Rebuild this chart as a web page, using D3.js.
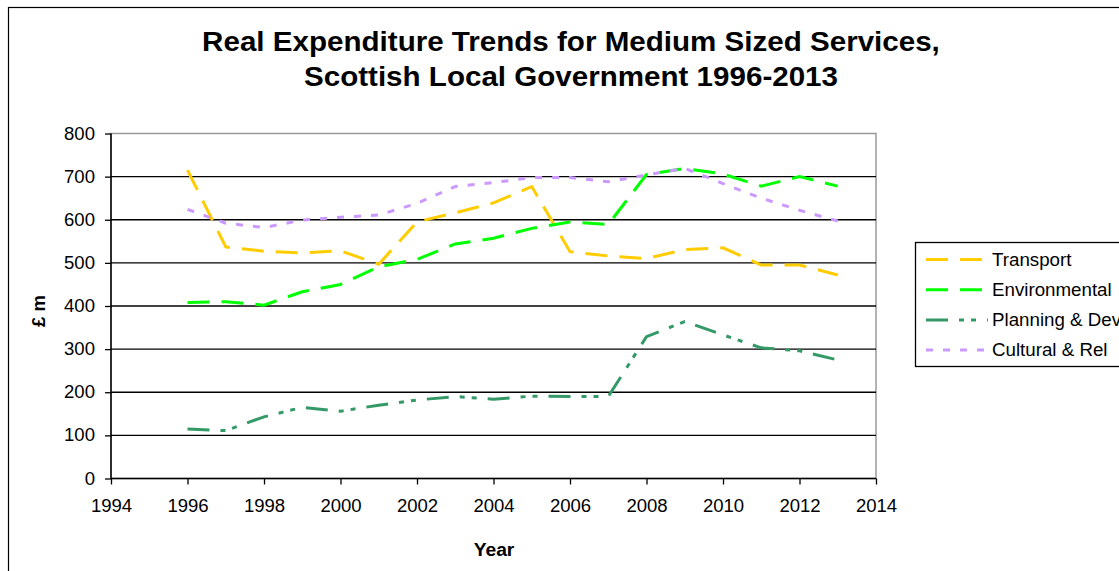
<!DOCTYPE html>
<html>
<head>
<meta charset="utf-8">
<script src="https://cdn.jsdelivr.net/npm/d3@7/dist/d3.min.js"></script>
<style>
  html, body { margin: 0; padding: 0; background: #fff; }
  svg { display: block; font-family: "Liberation Sans", Arial, sans-serif; }
</style>
</head>
<body>
<svg id="chart" width="1119" height="571"></svg>
<script>
// Real expenditure, £ million, Scottish local government
const years = [1996, 1997, 1998, 1999, 2000, 2001, 2002, 2003, 2004, 2005,
               2006, 2007, 2008, 2009, 2010, 2011, 2012, 2013];
const transport     = [715, 537, 527, 523, 528, 497, 595, 616, 639, 677, 526, 516, 510, 531, 535, 495, 495, 472];
const environmental = [408, 410, 402, 433, 450, 491, 508, 544, 557, 580, 595, 589, 705, 719, 706, 678, 700, 678];
const planningDev   = [115, 111, 143, 165, 156, 170, 182, 190, 184, 191, 190, 190, 329, 364, 333, 303, 296, 275];
const culturalRel   = [624, 592, 582, 599, 606, 611, 638, 677, 686, 698, 698, 688, 704, 719, 684, 650, 622, 597];
const seriesNames = ["Transport", "Environmental", "Planning & Dev", "Cultural & Rel"];
const xTicks = [1994, 1996, 1998, 2000, 2002, 2004, 2006, 2008, 2010, 2012, 2014];
const yTicks = [0, 100, 200, 300, 400, 500, 600, 700, 800];

const seriesData = [transport, environmental, planningDev, culturalRel];
const styles = [
  { color: "#FFCC00", dash: "22,12" },
  { color: "#00FF00", dash: "22,12" },
  { color: "#339966", dash: "22,11,5,7,5,11" },
  { color: "#CC99FF", dash: "7,10" }
];

const FONT = "'Liberation Sans', Arial, sans-serif";
const LABEL_SIZE = 17.5;

// widen glyphs slightly, the way the original chart's text is set
function widen(sel, factor) {
  sel.each(function () {
    const w = this.getComputedTextLength();
    d3.select(this)
      .attr("textLength", w * factor)
      .attr("lengthAdjust", "spacingAndGlyphs");
  });
}

const svg = d3.select("#chart");

// outer chart frame
svg.append("rect")
  .attr("x", 8.5).attr("y", 7.5)
  .attr("width", 1130).attr("height", 580)
  .attr("fill", "none").attr("stroke", "#000").attr("stroke-width", 1.2);

const plot = { left: 111, right: 876, top: 133.5, bottom: 478.5 };

const x = d3.scaleLinear().domain([1994, 2014]).range([plot.left, plot.right]);
const y = d3.scaleLinear().domain([0, 800]).range([plot.bottom, plot.top]);

// plot area border (grey)
svg.append("rect")
  .attr("x", plot.left).attr("y", plot.top)
  .attr("width", plot.right - plot.left).attr("height", plot.bottom - plot.top)
  .attr("fill", "none").attr("stroke", "#999").attr("stroke-width", 1.5);

// horizontal gridlines
svg.append("g")
  .selectAll("line")
  .data(yTicks.filter(d => d > 0 && d < 800))
  .join("line")
  .attr("x1", plot.left).attr("x2", plot.right)
  .attr("y1", d => y(d)).attr("y2", d => y(d))
  .attr("stroke", "#000").attr("stroke-width", 1.3);

// axes
const yAxis = svg.append("g")
  .attr("transform", `translate(${plot.left},0)`)
  .call(d3.axisLeft(y).tickValues(yTicks).tickSize(6).tickPadding(10).tickFormat(d3.format("d")));
const xAxis = svg.append("g")
  .attr("transform", `translate(0,${plot.bottom})`)
  .call(d3.axisBottom(x).tickValues(xTicks).tickSize(6).tickPadding(15.5).tickFormat(d3.format("d")));

[yAxis, xAxis].forEach(g => {
  g.select(".domain").attr("stroke", "#000").attr("stroke-width", 1.5);
  g.selectAll(".tick line").attr("stroke", "#000").attr("stroke-width", 1.3);
  g.selectAll(".tick text")
    .attr("fill", "#000")
    .style("font-family", FONT)
    .style("font-size", LABEL_SIZE + "px")
    .call(widen, 1.06);
});
yAxis.select(".domain").attr("d", `M0,${plot.bottom}V${plot.top}`);
xAxis.select(".domain").attr("d", `M${plot.left},0H${plot.right}`);

// series lines
const line = d3.line()
  .x((d, i) => x(years[i]))
  .y(d => y(d));

svg.append("g")
  .selectAll("path")
  .data(seriesData)
  .join("path")
  .attr("d", d => line(d))
  .attr("fill", "none")
  .attr("stroke", (d, i) => styles[i].color)
  .attr("stroke-width", 3)
  .attr("stroke-dasharray", (d, i) => styles[i].dash);

// title
const titleLines = ["Real Expenditure Trends for Medium Sized Services,",
                    "Scottish Local Government 1996-2013"];
svg.append("g")
  .selectAll("text")
  .data(titleLines)
  .join("text")
  .attr("x", 571).attr("y", (d, i) => 51 + i * 35)
  .attr("text-anchor", "middle")
  .style("font-size", "27px").style("font-weight", "bold")
  .text(d => d)
  .call(widen, 1.095);

// axis titles
svg.append("text")
  .attr("transform", "translate(39,311) rotate(-90)")
  .attr("text-anchor", "middle")
  .attr("dy", "0.35em")
  .style("font-size", LABEL_SIZE + "px").style("font-weight", "bold")
  .text("£ m")
  .call(widen, 1.06);
svg.append("text")
  .attr("x", 494).attr("y", 555.5)
  .attr("text-anchor", "middle")
  .style("font-size", "18px").style("font-weight", "bold")
  .text("Year")
  .call(widen, 1.07);

// legend
const legend = svg.append("g");
legend.append("rect")
  .attr("x", 915.5).attr("y", 242.5)
  .attr("width", 230).attr("height", 124)
  .attr("fill", "#fff").attr("stroke", "#000").attr("stroke-width", 1.3);

const entry = legend.selectAll("g.entry")
  .data(seriesNames)
  .join("g")
  .attr("class", "entry")
  .attr("transform", (d, i) => `translate(0,${259.5 + i * 30.2})`);
entry.append("line")
  .attr("x1", 926).attr("x2", 988)
  .attr("y1", 0).attr("y2", 0)
  .attr("stroke", (d, i) => styles[i].color)
  .attr("stroke-width", 3)
  .attr("stroke-dasharray", (d, i) => styles[i].dash);
entry.append("text")
  .attr("x", 992).attr("y", 0)
  .attr("dy", "0.35em")
  .style("font-size", LABEL_SIZE + "px")
  .text(d => d)
  .call(widen, 1.07);
</script>
</body>
</html>
